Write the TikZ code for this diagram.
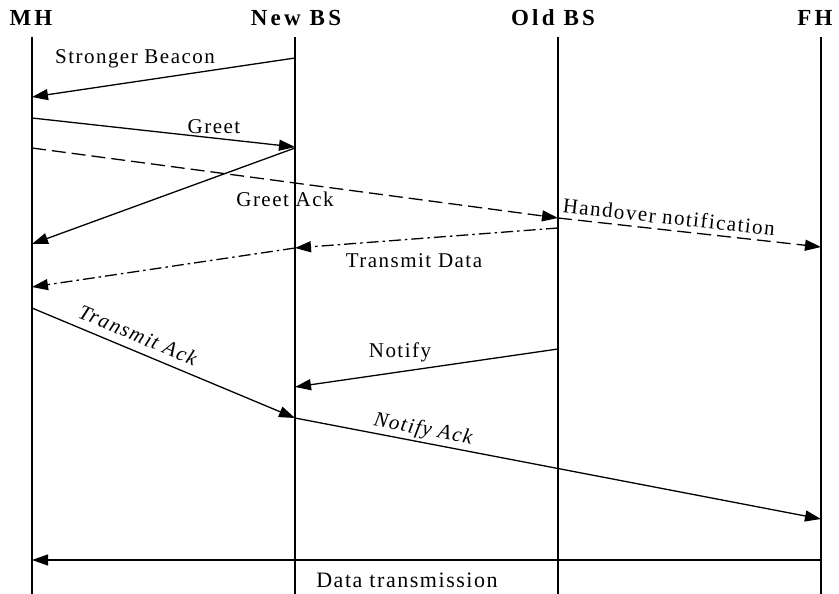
\documentclass[tikz,border=0pt]{standalone}
\usepackage{fontspec}
\setmainfont{Liberation Serif}
\newfontfamily\hdfont{Liberation Serif}[LetterSpace=14]
\newfontfamily\lbfont{Liberation Serif}[LetterSpace=7]
\usetikzlibrary{arrows.meta}
\begin{document}
\begin{tikzpicture}[x=1pt,y=-1pt,
  lifeline/.style={line width=1.3pt},
  msg/.style={line width=1.3pt,-{Triangle[length=16pt,width=11pt]}},
  dmsg/.style={msg,dash pattern=on 14pt off 6pt},
  ddmsg/.style={msg,dash pattern=on 12pt off 4pt on 2.5pt off 4pt},
  hd/.style={font=\hdfont\bfseries\fontsize{23}{26}\selectfont,inner sep=0pt},
  lbl/.style={font=\lbfont\fontsize{21}{24}\selectfont,inner sep=0pt}]
\useasboundingbox (0,0) rectangle (839,594);
% headers
\node[hd] (hMH) at (31,18) {MH};
\node[hd] (hNB) at (296,18) {New BS};
\node[hd] (hOB) at (553,18) {Old BS};
\node[hd] (hFH) at (815,18) {FH};
% lifelines
\foreach \n/\x in {mh/32,nb/295,ob/558,fh/821}{
  \coordinate (\n top) at (\x,37);
  \coordinate (\n bot) at (\x,594);
  \draw[lifeline] (\n top) -- (\n bot);
}
% message end points
\coordinate (sb1) at (295,58);  \coordinate (sb2) at (32,97);
\coordinate (g1) at (32,118);   \coordinate (g2) at (295,147);
\coordinate (ga1) at (295,148); \coordinate (ga2) at (32,244);
\coordinate (d1) at (32,148);   \coordinate (d2) at (558,218);
\coordinate (h2) at (821,247);
\coordinate (td1) at (558,228); \coordinate (td2) at (295,248); \coordinate (td3) at (32,287);
\coordinate (ta1) at (32,308);  \coordinate (ta2) at (295,418);
\coordinate (n1) at (558,349);  \coordinate (n2) at (295,387);
\coordinate (na2) at (821,519);
\coordinate (dt1) at (821,560); \coordinate (dt2) at (32,560);
% messages
\draw[msg] (sb1) -- (sb2);
\draw[msg] (g1) -- (g2);
\draw[msg] (ga1) -- (ga2);
\draw[dmsg] (d1) -- (d2);
\draw[dmsg] (d2) -- (h2);
\draw[ddmsg] (td1) -- (td2);
\draw[ddmsg] (td2) -- (td3);
\draw[msg] (ta1) -- (ta2);
\draw[msg] (n1) -- (n2);
\draw[msg] (ta2) -- (na2);
\draw[msg] (dt1) -- (dt2);
% labels
\node[lbl] (lsb) at (135,59) {Stronger Beacon};
\node[lbl] (lg) at (214,127) {Greet};
\node[lbl] (lga) at (285,199) {Greet Ack};
\node[lbl,rotate=-6.3] (lh) at (669,217) {Handover notification};
\node[lbl] (ltd) at (414,261) {Transmit Data};
\node[lbl,rotate=-22.7] (lta) at (138,335) {\itshape Transmit Ack};
\node[lbl] (ln) at (400,352) {Notify};
\node[lbl,rotate=-10.9] (lna) at (423,430) {\itshape Notify Ack};
\node[lbl,font=\lbfont\fontsize{22}{25}\selectfont] (ldt) at (407,580) {Data transmission};
\end{tikzpicture}
\end{document}
